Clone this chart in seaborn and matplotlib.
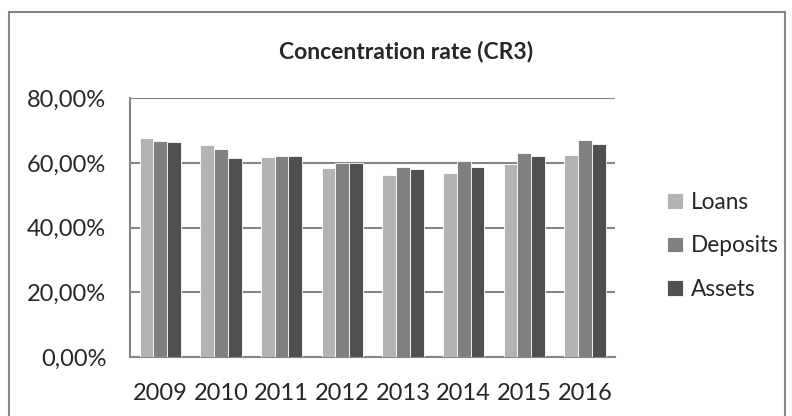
import pandas as pd
import matplotlib
matplotlib.use("Agg")
import matplotlib.pyplot as plt
import seaborn as sns
from matplotlib.ticker import FuncFormatter
from matplotlib.patches import Rectangle

# Valori (procente)
ani = ['2009', '2010', '2011', '2012', '2013', '2014', '2015', '2016']
loans = [67.8, 65.4, 61.7, 58.5, 56.4, 57.0, 59.7, 62.3]
deposits = [66.9, 64.4, 62.0, 60.0, 58.8, 60.7, 63.0, 67.0]
assets = [66.3, 61.4, 62.1, 60.0, 58.2, 58.7, 62.1, 65.7]
serii = ['Loans', 'Deposits', 'Assets']
culori = ['#b3b3b3', '#808080', '#505050']

df = pd.DataFrame({'An': ani, 'Loans': loans, 'Deposits': deposits, 'Assets': assets})
df_long = df.melt(id_vars='An', var_name='Serie', value_name='Valoare')

sns.set_style('white')
plt.rcParams['font.family'] = ['Lato', 'DejaVu Sans']

fig = plt.figure(figsize=(7.92, 4.16), dpi=100)
ax = fig.add_axes([0.164, 0.142, 0.613, 0.622])

sns.barplot(data=df_long, x='An', y='Valoare', hue='Serie', hue_order=serii,
            palette=culori, width=0.68, edgecolor='white', linewidth=0.6,
            saturation=1, ax=ax, zorder=3)

ax.set_ylim(0, 80)
ax.set_yticks([0, 20, 40, 60, 80])
ax.yaxis.set_major_formatter(FuncFormatter(lambda v, p: f'{v:.2f}%'.replace('.', ',')))
ax.grid(axis='y', color='#868686', linewidth=1.5, zorder=0)
ax.set_xlabel('')
ax.set_ylabel('')
ax.tick_params(axis='x', length=0, labelsize=17, pad=19)
ax.tick_params(axis='y', length=0, labelsize=17, pad=17)
for s in ['top', 'right']:
    ax.spines[s].set_visible(False)
for s in ['left', 'bottom']:
    ax.spines[s].set_color('#868686')
    ax.spines[s].set_linewidth(1.5)

ax.legend(loc='center left', bbox_to_anchor=(0.828, 0.409), bbox_transform=fig.transFigure,
          frameon=False, fontsize=16.3, labelspacing=1.0, handlelength=0.7,
          handleheight=0.7, handletextpad=0.35, borderpad=0)

fig.text(0.513, 0.875, 'Concentration rate (CR3)', ha='center', va='center',
         fontsize=16.5, fontweight='bold')

# chenarul exterior al graficului
fig.patches.append(Rectangle((0.011, -0.01), 0.98, 0.981, transform=fig.transFigure,
                             fill=False, edgecolor='#868686', linewidth=1.5))

fig.savefig('out.png', dpi=100)
